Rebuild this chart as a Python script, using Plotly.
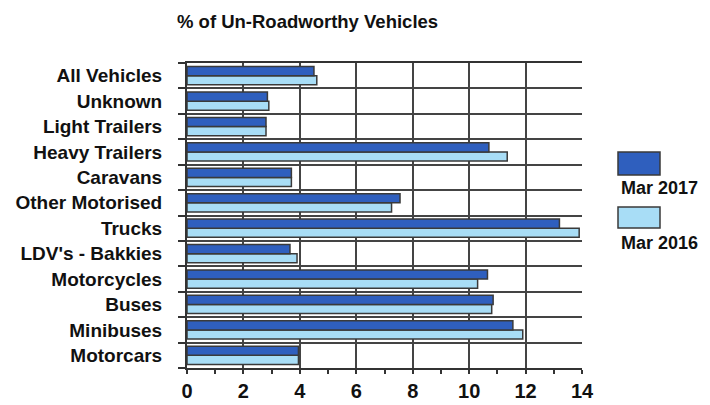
import plotly.graph_objects as go

title = "% of Un-Roadworthy Vehicles"
categories = ["All Vehicles", "Unknown", "Light Trailers", "Heavy Trailers", "Caravans",
              "Other Motorised", "Trucks", "LDV's - Bakkies", "Motorcycles", "Buses",
              "Minibuses", "Motorcars"]
series_2017_name = "Mar 2017"
series_2016_name = "Mar 2016"
values_2017 = [4.5, 2.85, 2.8, 10.7, 3.7, 7.55, 13.2, 3.65, 10.65, 10.85, 11.55, 3.95]
values_2016 = [4.6, 2.9, 2.8, 11.35, 3.7, 7.25, 13.9, 3.9, 10.3, 10.8, 11.9, 3.95]
x_ticks = [0, 2, 4, 6, 8, 10, 12, 14]

cats = categories[::-1]
v17 = values_2017[::-1]
v16 = values_2016[::-1]

DARK = "#2F5FBE"
LIGHT = "#A8DDF6"
EDGE = "#3a3a3a"
FONT = "Liberation Sans, Arial, sans-serif"

fig = go.Figure()
fig.add_trace(go.Bar(y=cats, x=v16, orientation="h", name=series_2016_name,
                     marker=dict(color=LIGHT, line=dict(color=EDGE, width=1.5))))
fig.add_trace(go.Bar(y=cats, x=v17, orientation="h", name=series_2017_name,
                     marker=dict(color=DARK, line=dict(color=EDGE, width=1.5))))

fig.update_layout(
    width=710, height=405,
    margin=dict(l=187, r=128, t=63, b=37, autoexpand=False),
    paper_bgcolor="white", plot_bgcolor="white",
    barmode="group", bargap=0.28, bargroupgap=0,
    showlegend=False,
    font=dict(family=FONT, color="#111"),
)
fig.update_xaxes(range=[0, 14], tickvals=x_ticks, showgrid=True, gridcolor="#444", gridwidth=2,
                 showline=True, linecolor="#333", linewidth=2, mirror=True,
                 ticks="outside", ticklen=4, tickcolor="#333", tickwidth=1.5,
                 minor=dict(dtick=1, ticks="outside", ticklen=4, tickcolor="#333", showgrid=False),
                 ticklabelstandoff=0,
                 tickfont=dict(size=20, family=FONT, color="#111", weight="bold"),
                 zeroline=False)
fig.update_yaxes(tickson="boundaries", showgrid=True, gridcolor="#444", gridwidth=1.5,
                 showline=True, linecolor="#333", linewidth=2,
                 ticks="outside", ticklen=7, tickcolor="#333", tickwidth=1.5,
                 ticklabelstandoff=19,
                 tickfont=dict(size=19, family=FONT, color="#111", weight="bold"))

fig.add_annotation(text=title, xref="paper", yref="paper", x=(175 - 187) / 395, y=1.0, yshift=42,
                   xanchor="left", yanchor="middle", showarrow=False,
                   font=dict(size=18.5, family=FONT, color="#111", weight="bold"))

# legend drawn manually: swatch above its label
leg = [(series_2017_name, DARK, 152, 175, 188), (series_2016_name, LIGHT, 207, 228, 243)]
for name, col, y0, y1, ty in leg:
    fig.add_shape(type="rect", xref="paper", yref="paper",
                  x0=(618 - 187) / 395, x1=(660 - 187) / 395,
                  y0=(368 - y1) / 305, y1=(368 - y0) / 305,
                  fillcolor=col, line=dict(color=EDGE, width=1.5))
    fig.add_annotation(text=name, xref="paper", yref="paper",
                       x=(619 - 187) / 395, y=(368 - ty) / 305,
                       xanchor="left", yanchor="middle", showarrow=False,
                       font=dict(size=18, family=FONT, color="#111", weight="bold"))

fig.write_html("out.html", config={"displayModeBar": False},
               post_script="document.body.style.margin='0';")
